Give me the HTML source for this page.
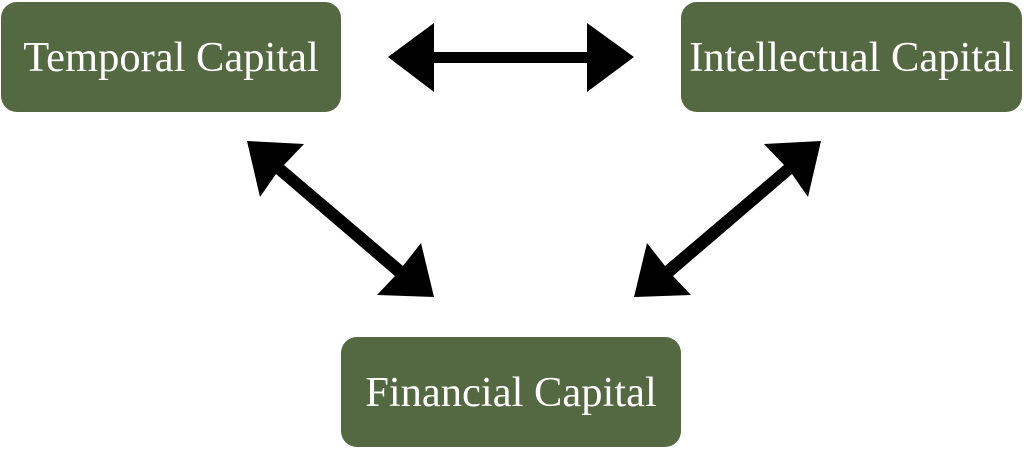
<!DOCTYPE html>
<html><head><style>
html,body{margin:0;padding:0;background:#fff;width:1024px;height:451px;overflow:hidden;position:relative}
.b{position:absolute;background:#546842;border-radius:16px;color:#fff;font-family:"Liberation Serif",serif;font-size:42.5px;display:flex;align-items:center;justify-content:center;white-space:nowrap}
</style></head><body>
<div class="b" style="left:1px;top:2px;width:340px;height:110px">Temporal Capital</div>
<div class="b" style="left:681px;top:2px;width:341px;height:110px">Intellectual Capital</div>
<div class="b" style="left:341px;top:337px;width:340px;height:110px">Financial Capital</div>
<svg width="1024" height="451" style="position:absolute;left:0;top:0">
<g fill="#000">
<polygon points="388,57 434,23 434,52 587,52 587,23 634,57 587,92 587,63 434,63 434,92"/>
<polygon points="247,141 304,144 284,165 403,266 421,243 434,297 377,295 395,276 276,174 260,197"/>
<g transform="translate(1068,0) scale(-1,1)"><polygon points="247,141 304,144 284,165 403,266 421,243 434,297 377,295 395,276 276,174 260,197"/></g>
</g>
</svg>
</body></html>
